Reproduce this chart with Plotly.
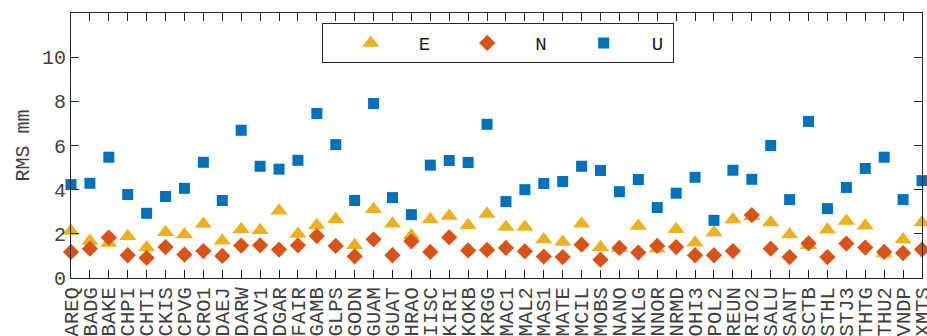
import plotly.graph_objects as go

stations = ["AREQ","BADG","BAKE","CHPI","CHTI","CKIS","CPVG","CRO1","DAEJ","DARW",
            "DAV1","DGAR","FAIR","GAMB","GLPS","GODN","GUAM","GUAT","HRAO","IISC",
            "KIRI","KOKB","KRGG","MAC1","MAL2","MAS1","MATE","MCIL","MOBS","NANO",
            "NKLG","NNOR","NRMD","OHI3","POL2","REUN","RIO2","SALU","SANT","SCTB",
            "STHL","STJ3","THTG","THU2","VNDP","XMTS"]

rms_E = [2.13,1.68,1.59,1.89,1.38,2.07,1.97,2.45,1.69,2.21,
         2.16,3.04,1.99,2.39,2.66,1.48,3.11,2.46,1.93,2.65,
         2.81,2.39,2.90,2.31,2.31,1.74,1.63,2.46,1.39,1.35,
         2.36,1.33,2.21,1.60,2.06,2.65,2.80,2.51,1.97,1.48,
         2.19,2.58,2.37,1.11,1.74,2.51]

rms_N = [1.18,1.33,1.83,1.03,0.91,1.40,1.06,1.22,1.00,1.47,
         1.48,1.29,1.48,1.90,1.45,0.98,1.75,1.03,1.66,1.18,
         1.84,1.25,1.27,1.36,1.21,0.97,0.95,1.51,0.83,1.36,
         1.15,1.45,1.40,1.03,1.03,1.22,2.85,1.33,0.95,1.57,
         0.95,1.56,1.38,1.18,1.13,1.29]

rms_U = [4.23,4.29,5.47,3.78,2.93,3.69,4.06,5.24,3.51,6.69,
         5.06,4.93,5.33,7.45,6.04,3.51,7.90,3.64,2.87,5.11,
         5.32,5.23,6.96,3.46,4.00,4.28,4.37,5.06,4.87,3.91,
         4.46,3.19,3.84,4.56,2.61,4.88,4.47,6.00,3.55,7.09,
         3.14,4.10,4.96,5.47,3.55,4.41]

y_ticks = [0, 2, 4, 6, 8, 10]

FONT = "Courier New, Liberation Mono, monospace"

fig = go.Figure()
fig.add_trace(go.Scatter(x=stations, y=rms_E, mode="markers", name="E",
                         marker=dict(symbol="triangle-up", size=15, color="#EDB120"),
                         cliponaxis=False))
fig.add_trace(go.Scatter(x=stations, y=rms_N, mode="markers", name="N",
                         marker=dict(symbol="diamond", size=12.5, color="#D95319"),
                         cliponaxis=False))
fig.add_trace(go.Scatter(x=stations, y=rms_U, mode="markers", name="U",
                         marker=dict(symbol="square", size=11, color="#0072BD"),
                         cliponaxis=False))

axis_common = dict(showline=True, linecolor="#262626", linewidth=1, mirror="ticks",
                   ticks="inside", ticklen=8, tickcolor="#262626", showgrid=False,
                   zeroline=False)

fig.update_xaxes(type="category", range=[0, len(stations) - 1], tickangle=-90,
                 tickmode="array", tickvals=stations, ticktext=stations,
                 tickfont=dict(family=FONT, size=20.5, color="#404040"),
                 automargin=False, **axis_common)
fig.update_yaxes(range=[0, 12], tickvals=y_ticks, automargin=False,
                 tickfont=dict(family=FONT, size=20, color="#404040"),
                 title=dict(text="RMS mm", font=dict(family=FONT, size=20, color="#404040"),
                            standoff=6),
                 **axis_common)

fig.update_layout(
    width=927, height=336,
    margin=dict(l=71, r=5, t=13, b=58, autoexpand=False),
    plot_bgcolor="white", paper_bgcolor="white",
    font=dict(family=FONT, size=19, color="#262626"),
    legend=dict(orientation="h", x=0.2946, y=0.962, xanchor="left", yanchor="top",
                bordercolor="#262626", borderwidth=1, bgcolor="white",
                itemwidth=86, entrywidth=15.5, entrywidthmode="pixels",
                font=dict(family=FONT, size=19, color="#1a1a1a")),
)

fig.write_html("out.html", config={"displayModeBar": False},
               post_script="document.body.style.margin='0';")
